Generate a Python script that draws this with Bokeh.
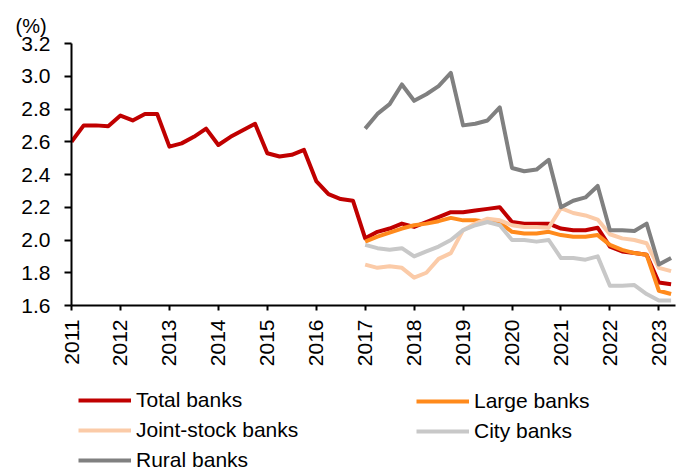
import math
from bokeh.plotting import figure
from bokeh.layouts import column
from bokeh.models import (FixedTicker, Legend, LegendItem, Range1d, Title,
                          NumeralTickFormatter)
from bokeh.embed import file_html
from bokeh.resources import INLINE

# ---------------- data (quarterly, %) ----------------
total_quarters = [f"{y}Q{q}" for y in range(2011, 2024) for q in range(1, 5)][:50]
sub_quarters = total_quarters[24:]

total_banks = [2.60, 2.70, 2.70, 2.695, 2.76, 2.73, 2.77, 2.77, 2.57, 2.59,
               2.63, 2.68, 2.58, 2.63, 2.67, 2.71, 2.53, 2.51, 2.52, 2.55,
               2.36, 2.28, 2.25, 2.24, 2.01, 2.05, 2.07, 2.10, 2.08, 2.11,
               2.14, 2.17, 2.17, 2.18, 2.19, 2.20, 2.11, 2.10, 2.10, 2.10,
               2.07, 2.06, 2.06, 2.075, 1.96, 1.93, 1.92, 1.91, 1.74, 1.73]
large_banks = [1.99, 2.02, 2.045, 2.07, 2.09, 2.10, 2.115, 2.135, 2.12, 2.12,
               2.11, 2.105, 2.05, 2.04, 2.04, 2.05, 2.03, 2.02, 2.02, 2.03,
               1.97, 1.94, 1.92, 1.91, 1.69, 1.67]
joint_stock_banks = [1.85, 1.83, 1.84, 1.83, 1.77, 1.80, 1.885, 1.92, 2.06, 2.10,
                     2.13, 2.12, 2.09, 2.08, 2.08, 2.075, 2.195, 2.165, 2.15, 2.125,
                     2.035, 2.01, 2.00, 1.98, 1.83, 1.81]
city_banks = [1.97, 1.95, 1.94, 1.95, 1.90, 1.93, 1.96, 2.00, 2.06, 2.09,
              2.11, 2.09, 2.00, 2.00, 1.99, 2.00, 1.89, 1.89, 1.88, 1.90,
              1.72, 1.72, 1.725, 1.67, 1.63, 1.63]
rural_banks = [2.68, 2.77, 2.83, 2.95, 2.85, 2.89, 2.94, 3.02, 2.70, 2.71,
               2.73, 2.81, 2.44, 2.42, 2.43, 2.49, 2.20, 2.24, 2.26, 2.33,
               2.06, 2.06, 2.055, 2.10, 1.85, 1.89]

series_names = ["Total banks", "Large banks", "Joint-stock banks", "City banks", "Rural banks"]
series_colors = ["#C00000", "#FF8A1C", "#FBCBA8", "#C8C8C8", "#808080"]

year_ticks = list(range(2011, 2024))
y_ticks = [1.6, 1.8, 2.0, 2.2, 2.4, 2.6, 2.8, 3.0, 3.2]


def qpos(labels):
    return [int(s[:4]) + (int(s[5]) - 1) / 4 for s in labels]


xt = qpos(total_quarters)
xs = qpos(sub_quarters)

FONT = "Liberation Sans"

p = figure(width=689, height=380, output_backend="svg", toolbar_location=None,
           x_range=Range1d(2011, 2023.34), y_range=Range1d(1.6, 3.2),
           min_border_left=71, min_border_right=14, min_border_top=43,
           min_border_bottom=75)
p.outline_line_color = None
p.xgrid.visible = False
p.ygrid.visible = False
p.background_fill_color = "white"
p.border_fill_color = "white"

lw = 4
data_sets = [(xt, total_banks), (xs, large_banks), (xs, joint_stock_banks),
             (xs, city_banks), (xs, rural_banks)]
renderers = []
for (x, y), c in zip(data_sets, series_colors):
    renderers.append(p.line(x, y, line_color=c, line_width=lw, line_join="round"))

# axes
for ax in (p.xaxis[0], p.yaxis[0]):
    ax.axis_line_color = "black"
    ax.axis_line_width = 2
    ax.major_tick_line_color = "black"
    ax.major_tick_line_width = 2
    ax.minor_tick_line_color = None
    ax.major_tick_in = 0
    ax.major_label_text_font = FONT
    ax.major_label_text_font_size = "21px"
    ax.major_label_text_color = "black"

p.yaxis.ticker = FixedTicker(ticks=y_ticks)
p.yaxis.formatter = NumeralTickFormatter(format="0.0")
p.yaxis.major_tick_out = 7
p.yaxis.major_label_standoff = 14

p.xaxis.ticker = FixedTicker(ticks=year_ticks)
p.xaxis.major_label_orientation = math.pi / 2
p.xaxis.major_tick_out = 5
p.xaxis.major_label_standoff = 9

p.add_layout(Title(text="(%)", align="left", offset=-56, standoff=14,
                   text_font=FONT, text_font_size="20px", text_font_style="normal",
                   text_color="black"), "above")

# ---------------- legend panel ----------------
q = figure(width=689, height=95, output_backend="svg", toolbar_location=None,
           x_axis_location=None, y_axis_location=None, min_border=0,
           x_range=Range1d(0, 1), y_range=Range1d(0, 1))
q.outline_line_color = None
q.xgrid.visible = False
q.ygrid.visible = False
q.background_fill_color = "white"
q.border_fill_color = "white"

# stand-in renderers (outside the visible range) that carry each series' style
dummies = [q.line(x[:2], [v + 10 for v in y[:2]], line_color=c, line_width=lw)
           for (x, y), c in zip(data_sets, series_colors)]

leg_style = dict(border_line_color=None, background_fill_alpha=0, padding=0, margin=0,
                 spacing=6, glyph_width=53, glyph_height=20, label_standoff=5,
                 label_text_font=FONT, label_text_font_size="21px",
                 label_text_color="black", orientation="vertical")

leg1 = Legend(items=[LegendItem(label=series_names[i], renderers=[dummies[i]]) for i in (0, 2, 4)],
              location=(7, 3), **leg_style)
leg2 = Legend(items=[LegendItem(label=series_names[i], renderers=[dummies[i]]) for i in (1, 3)],
              location=(345, 32), **leg_style)
q.add_layout(leg1)
q.add_layout(leg2)

layout = column(p, q, spacing=0)
open("out.html", "w").write(file_html(layout, INLINE))
